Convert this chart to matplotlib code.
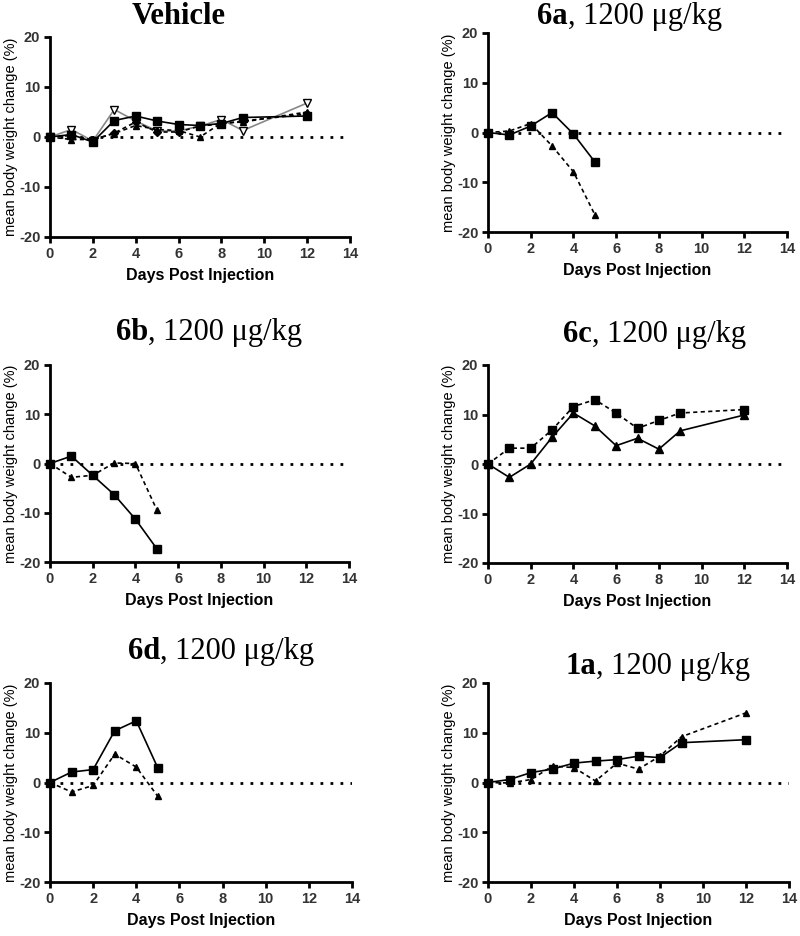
import matplotlib
matplotlib.use("Agg")
import matplotlib.pyplot as plt

plt.rcParams['axes.unicode_minus'] = False
plt.rcParams['font.family'] = ['Liberation Sans', 'DejaVu Sans']

# ---------------- data ----------------
days_long = [0, 1, 2, 3, 4, 5, 6, 7, 8, 9, 12]
days_short = [0, 1, 2, 3, 4, 5]

veh_open_tri = [0, 1.5, -0.8, 5.5, 3.2, 1.2, 1.2, 2.2, 3.5, 1.3, 6.8]
veh_square = [0, 0.5, -1.0, 3.3, 4.2, 3.2, 2.5, 2.3, 2.7, 3.9, 4.2]
veh_tri = [0, -0.5, -0.5, 0.7, 2.3, 1.5, 1.3, 0.0, 2.8, 3.0, 5.0]
veh_diamond = [0, 0.3, -0.6, 0.8, 3.0, 1.0, 1.0, 2.2, 2.6, 3.2, 4.6]

a6_square = [0, -0.5, 1.3, 4.0, -0.3, -5.9]
a6_tri = [0, 0.3, 1.8, -2.7, -7.9, -16.5]

b6_square = [0, 1.5, -2.4, -6.3, -11.3, -17.3]
b6_tri = [0, -2.8, -2.4, 0.1, 0.0, -9.4]

c6_square = [0, 3.2, 3.2, 6.9, 11.6, 13.0, 10.3, 7.2, 8.8, 10.3, 11.0]
c6_tri = [0, -2.7, 0.0, 5.4, 10.3, 7.7, 3.7, 5.2, 3.0, 6.7, 9.9]

d6_square = [0, 2.1, 2.6, 10.4, 12.4, 2.9]
d6_tri = [0, -1.9, -0.6, 5.7, 3.1, -2.8]

a1_square = [0, 0.6, 2.0, 2.7, 3.9, 4.3, 4.6, 5.3, 5.0, 8.0, 8.6]
a1_tri = [0, -0.1, 0.6, 3.3, 3.0, 0.3, 3.9, 2.7, 5.3, 9.2, 14.0]

x_ticks = [0, 2, 4, 6, 8, 10, 12, 14]
y_ticks = [-20, -10, 0, 10, 20]

W, H = 800, 936
fig = plt.figure(figsize=(W / 100, H / 100), dpi=100)


def px_axes(left, right, top, bottom):
    return fig.add_axes([left / W, 1 - bottom / H, (right - left) / W, (bottom - top) / H])


def style(ax):
    ax.set_xlim(0, 14)
    ax.set_ylim(-20, 20)
    ax.set_xticks(x_ticks)
    ax.set_yticks(y_ticks)
    for s in ['top', 'right']:
        ax.spines[s].set_visible(False)
    for s in ['left', 'bottom']:
        ax.spines[s].set_linewidth(2.0)
    ax.tick_params(direction='out', length=4, width=2, labelsize=10.5,
                   labelcolor='#333333', pad=3)
    for lab in ax.get_xticklabels() + ax.get_yticklabels():
        lab.set_fontweight('bold')
    ax.axhline(0, color='black', lw=2.0, ls=(0, (1, 2.6)), zorder=1)
    ax.set_xlabel('Days Post Injection', fontsize=11.5, fontweight='bold', labelpad=5)
    ax.set_ylabel('mean body weight change (%)', fontsize=10.5, labelpad=1)


def plot_series(ax, x, y, marker, ls, color='black', mfc='black', ms=5.5, lw=1.2):
    ax.plot(x, y, marker=marker, ls=ls, color=color, mfc=mfc, mec='black',
            ms=ms, lw=lw, clip_on=False, zorder=3)


def title(x_left, baseline, bold, rest):
    t = fig.text(x_left / W, 1 - baseline / H, bold, fontsize=22, fontweight='bold',
                 family=['Liberation Serif'], va='baseline', ha='left')
    if rest:
        fig.canvas.draw()
        ext = t.get_window_extent()
        fig.text(ext.x1 / W, 1 - baseline / H, rest, fontsize=22,
                 family=['Liberation Serif', 'DejaVu Serif'], va='baseline', ha='left')


dash = (0, (2.5, 2))

# Vehicle
ax1 = px_axes(50, 350, 37, 237)
style(ax1)
plot_series(ax1, days_long, veh_open_tri, 'v', '-', color='#888888', mfc='white', ms=5.5)
plot_series(ax1, days_long, veh_diamond, 'D', dash, ms=4)
plot_series(ax1, days_long, veh_tri, '^', dash, ms=5)
plot_series(ax1, days_long, veh_square, 's', '-', ms=5.5)
title(132, 24, 'Vehicle', '')

# 6a
ax2 = px_axes(488, 787, 33, 232)
style(ax2)
plot_series(ax2, days_short, a6_tri, '^', dash, ms=5)
plot_series(ax2, days_short, a6_square, 's', '-', ms=5.5)
title(537, 24, '6a', ', 1200 μg/kg')

# 6b
ax3 = px_axes(50, 349, 365, 562)
style(ax3)
plot_series(ax3, days_short, b6_tri, '^', dash, ms=5)
plot_series(ax3, days_short, b6_square, 's', '-', ms=5.5)
title(116, 340, '6b', ', 1200 μg/kg')

# 6c
ax4 = px_axes(488, 787, 365, 563)
style(ax4)
plot_series(ax4, days_long, c6_square, 's', dash, ms=6)
plot_series(ax4, days_long, c6_tri, '^', '-', ms=5.5)
title(563, 342, '6c', ', 1200 μg/kg')

# 6d
ax5 = px_axes(50, 352, 683, 882)
style(ax5)
plot_series(ax5, days_short, d6_tri, '^', dash, ms=5)
plot_series(ax5, days_short, d6_square, 's', '-', ms=5.5)
title(128, 659, '6d', ', 1200 μg/kg')

# 1a
ax6 = px_axes(488, 789, 683, 882)
style(ax6)
plot_series(ax6, days_long, a1_tri, '^', dash, ms=5)
plot_series(ax6, days_long, a1_square, 's', '-', ms=5.5)
title(565, 674, '1a', ', 1200 μg/kg')

fig.savefig('out.png', dpi=100)
